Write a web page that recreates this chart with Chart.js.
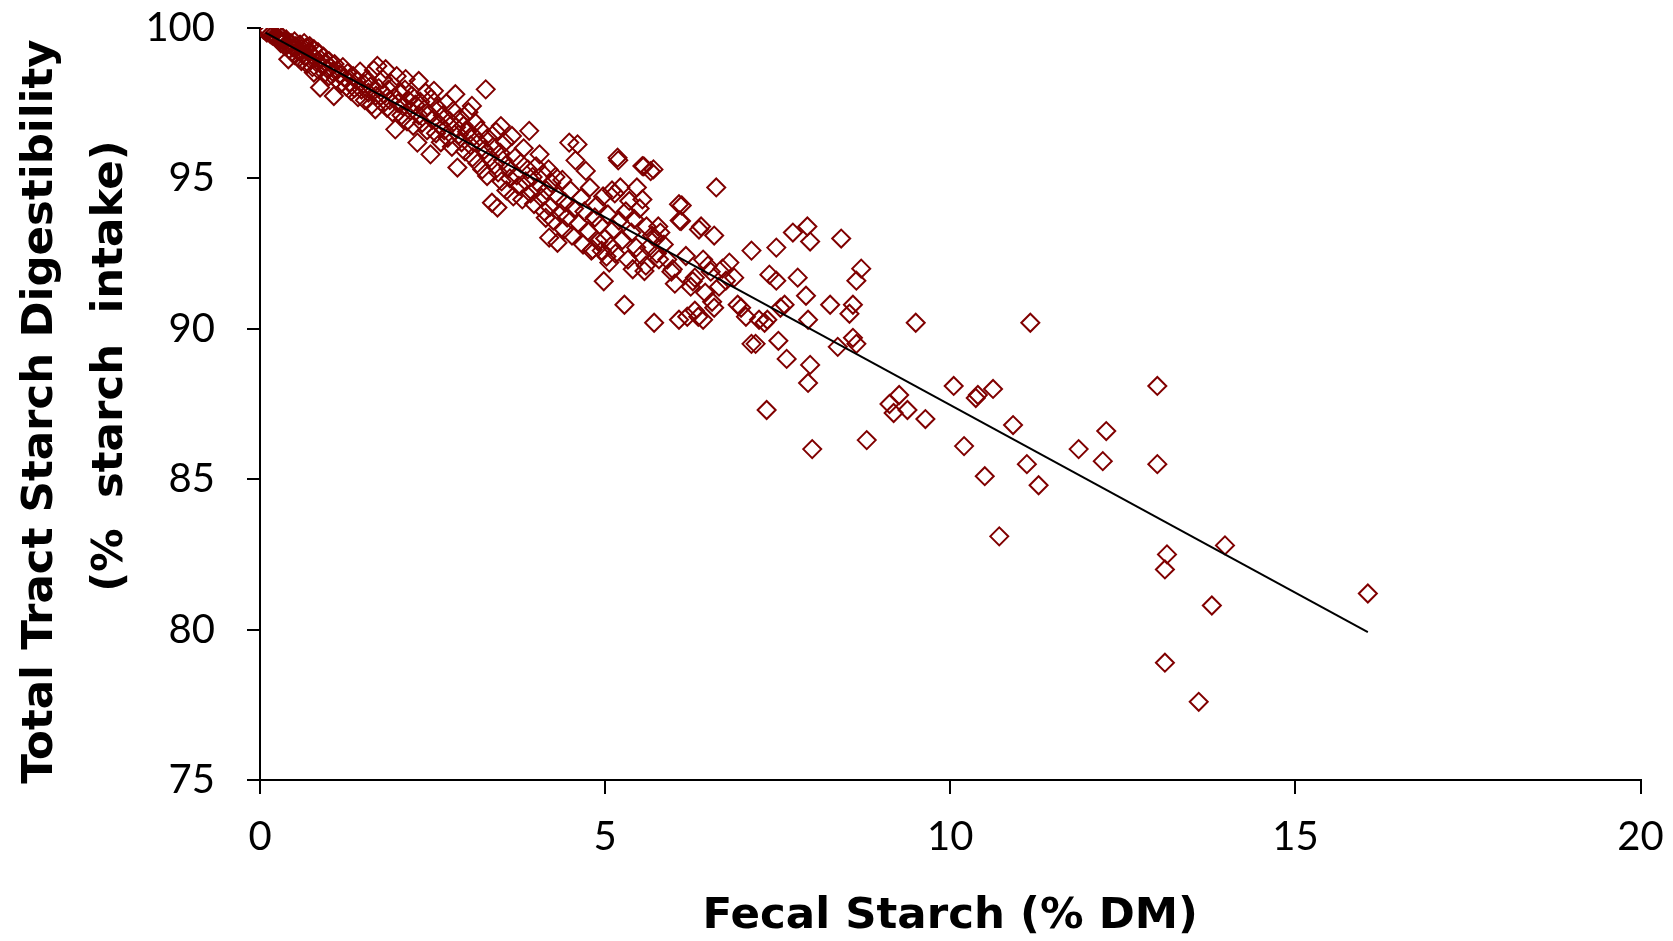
<!DOCTYPE html>
<html>
<head>
<meta charset="utf-8">
<script src="https://cdn.jsdelivr.net/npm/chart.js@4.4.1/dist/chart.umd.min.js"></script>
<style>
html,body{margin:0;padding:0;background:#fff;}
#wrap{width:1673px;height:941px;}
</style>
</head>
<body>
<div id="wrap"><canvas id="c" width="1673" height="941"></canvas></div>
<script>
// Fecal starch (% DM) and total tract starch digestibility (% starch intake)
const fecalStarch = [
0.05,0.08,0.1,0.12,0.15,0.18,0.2,0.22,0.25,0.27,0.3,0.3,0.32,0.35,0.36,0.38,0.4,0.41,0.42,0.45,
0.46,0.48,0.5,0.5,0.52,0.55,0.56,0.58,0.6,0.6,0.62,0.64,0.65,0.67,0.68,0.7,0.72,0.73,0.75,0.76,
0.78,0.78,0.8,0.82,0.84,0.85,0.87,0.88,0.9,0.92,0.94,0.95,0.97,1.0,1.0,1.02,1.05,1.07,1.08,1.1,
1.12,1.15,1.17,1.2,1.22,1.25,1.27,1.3,1.32,1.35,1.37,1.4,1.42,1.45,1.47,1.5,1.52,1.55,1.57,1.6,
1.62,1.65,1.67,1.68,1.7,1.72,1.75,1.78,1.8,1.82,1.84,1.86,1.88,1.9,1.92,1.95,1.96,1.98,2.0,2.02,
2.05,2.07,2.1,2.11,2.13,2.15,2.18,2.2,2.22,2.25,2.28,2.3,2.3,2.32,2.35,2.38,2.4,2.42,2.45,2.47,
2.48,2.5,2.52,2.55,2.57,2.6,2.62,2.65,2.67,2.7,2.72,2.75,2.78,2.8,2.83,2.84,2.86,2.88,2.9,2.92,
2.95,2.97,3.0,3.02,3.05,3.07,3.08,3.1,3.12,3.15,3.17,3.2,3.22,3.25,3.27,3.29,3.3,3.33,3.36,3.38,
3.4,3.42,3.44,3.45,3.48,3.49,3.5,3.52,3.55,3.57,3.6,3.62,3.65,3.67,3.7,3.72,3.75,3.78,3.8,3.82,
3.85,3.88,3.9,3.92,3.95,3.97,4.0,4.02,4.05,4.08,4.1,4.12,4.14,4.15,4.18,4.19,4.2,4.22,4.25,4.28,
4.31,4.32,4.35,4.38,4.4,4.42,4.45,4.48,4.5,4.52,4.55,4.57,4.6,4.62,4.65,4.68,4.7,4.72,4.75,4.78,
4.8,4.82,4.85,4.88,4.9,4.92,4.95,4.97,4.98,5.0,5.02,5.04,5.06,5.08,5.1,5.12,5.14,5.15,5.18,5.19,
5.2,5.22,5.25,5.28,5.3,5.33,5.35,5.38,5.4,5.42,5.45,5.46,5.5,5.52,5.54,5.54,5.56,5.57,5.59,5.6,
5.63,5.66,5.68,5.7,5.71,5.73,5.75,5.77,5.78,5.8,5.85,5.9,5.96,5.98,6.01,6.07,6.07,6.08,6.1,6.11,
6.17,6.19,6.24,6.27,6.3,6.3,6.35,6.36,6.39,6.42,6.42,6.45,6.49,6.53,6.55,6.58,6.58,6.61,6.65,6.7,
6.75,6.8,6.87,6.92,6.97,7.04,7.12,7.12,7.18,7.23,7.31,7.35,7.34,7.38,7.48,7.48,7.51,7.54,7.6,7.63,
7.72,7.79,7.91,7.93,7.94,7.94,7.97,7.97,8.0,8.26,8.37,8.42,8.54,8.59,8.59,8.64,8.64,8.71,8.79,9.12,
9.18,9.26,9.38,9.5,9.64,10.05,10.2,10.37,10.4,10.5,10.62,10.71,10.91,11.11,11.16,11.28,11.86,12.21,12.26,13.0,
13.0,13.11,13.14,13.11,13.6,13.79,13.98,16.05
];
const digestibility = [
99.95,99.9,99.85,99.92,99.8,99.75,99.82,99.7,99.65,99.78,99.6,99.5,99.7,99.55,99.4,99.62,99.45,98.96,99.3,99.5,
99.2,99.35,99.55,99.1,99.4,99.25,99.0,99.45,99.3,98.9,99.15,99.5,99.05,99.35,98.8,99.2,99.4,98.95,99.1,98.7,
98.52,99.3,99.0,98.85,99.2,98.6,98.02,98.95,98.75,99.05,98.5,98.85,98.65,98.9,98.4,98.7,98.55,97.74,98.8,98.3,
98.6,98.45,98.15,98.7,98.35,98.05,98.5,98.2,97.9,98.4,98.0,98.25,97.7,98.55,97.95,98.15,97.6,98.3,97.85,98.05,
97.45,98.6,97.3,97.75,98.74,98.0,97.55,98.3,97.8,98.63,97.35,97.95,97.6,98.15,97.2,97.7,96.63,98.4,97.5,97.85,
97.1,97.4,97.95,98.3,96.9,97.6,97.25,97.75,96.75,97.45,96.19,98.24,97.1,97.55,96.85,97.3,97.85,96.6,97.15,95.8,
97.65,96.95,97.91,96.5,97.35,96.8,96.2,97.1,96.6,97.5,96.35,96.9,96.05,97.25,97.8,96.7,95.36,96.45,97.0,96.2,
96.75,95.9,96.55,97.2,96.1,97.41,95.7,96.4,96.85,95.5,96.2,96.6,95.3,95.95,97.96,95.08,96.35,95.7,94.19,96.05,
95.45,96.55,94.03,95.2,95.85,96.74,94.9,95.6,96.2,94.6,95.35,95.0,96.41,94.4,95.7,95.1,94.75,95.5,94.3,96.0,
94.9,95.3,96.58,94.5,95.05,94.15,95.4,94.7,95.8,94.35,95.15,93.9,93.69,94.6,95.3,93.03,94.05,94.85,93.6,95.05,
92.86,94.4,93.85,94.95,93.3,94.2,93.7,96.19,94.6,93.1,94.0,95.6,96.13,93.5,94.35,92.8,93.9,95.25,93.25,94.7,
92.6,92.64,93.7,94.1,92.9,93.45,92.6,94.4,91.58,93.0,92.4,93.8,92.2,92.75,94.6,93.3,94.5,92.5,95.69,95.6,
93.6,94.7,92.95,90.8,93.9,92.3,94.25,93.2,91.98,93.65,92.7,94.7,94.0,92.45,94.3,95.41,95.4,91.92,92.1,93.4,
92.7,95.24,93.1,95.3,90.2,93.0,92.5,93.4,92.31,93.2,92.8,92.3,91.9,91.98,91.5,90.3,94.14,93.6,93.58,94.1,
92.42,90.4,91.4,91.58,90.6,91.7,90.4,93.3,93.4,92.3,90.3,91.2,92.1,91.9,90.9,93.1,90.7,94.7,91.4,92.0,
91.6,92.2,91.7,90.8,90.7,90.4,92.6,89.5,89.5,90.3,90.2,90.3,87.3,91.8,92.7,91.6,89.6,90.7,90.8,89.0,
93.2,91.7,91.1,93.4,90.3,88.2,88.8,92.9,86.0,90.8,89.4,93.0,90.5,90.8,89.7,89.5,91.6,92.0,86.3,87.5,
87.2,87.8,87.3,90.2,87.0,88.1,86.1,87.7,87.8,85.1,88.0,83.1,86.8,85.5,90.2,84.8,86.0,85.6,86.6,88.1,
85.5,82.0,82.5,78.9,77.6,80.8,82.8,81.2
];
// Fitted regression line end points
const fitX = [0.08, 16.05];
const fitY = [99.85, 79.92];
const xTicks = [0, 5, 10, 15, 20];
const yTicks = [75, 80, 85, 90, 95, 100];
const xTitle = 'Fecal Starch (% DM)';
const yTitle = ['Total Tract Starch Digestibility ', '     (%  starch  intake)'];

const pts = fecalStarch.map((x, i) => ({x: x, y: digestibility[i]}));
const fit = fitX.map((x, i) => ({x: x, y: fitY[i]}));

const tickFont = {family: 'Lato', size: 40};

new Chart(document.getElementById('c'), {
  type: 'scatter',
  data: {
    datasets: [
      {data: fit, showLine: true, borderColor: '#000', borderWidth: 2, pointRadius: 0, fill: false},
      {data: pts, pointStyle: 'rectRot', pointRadius: 9, pointBorderWidth: 2,
       borderColor: '#800000', backgroundColor: 'rgba(0,0,0,0)', pointBackgroundColor: 'rgba(0,0,0,0)'}
    ]
  },
  options: {
    responsive: false,
    animation: false,
    layout: {padding: {top: 28, right: 32.5, left: 0, bottom: 0}},
    plugins: {legend: {display: false}, tooltip: {enabled: false}},
    scales: {
      x: {
        type: 'linear', min: 0, max: 20,
        afterBuildTicks: s => { s.ticks = xTicks.map(v => ({value: v})); },
        afterFit: s => { s.height = 161; s.paddingLeft = 0; s.paddingRight = 0; },
        ticks: {font: tickFont, color: '#000', padding: 19, maxRotation: 0},
        grid: {drawOnChartArea: false, drawTicks: true, tickLength: 14, tickColor: '#000', lineWidth: 2},
        border: {display: true, color: '#000', width: 2},
        title: {display: true, text: xTitle, font: {family: 'DejaVu Sans', size: 43.5, weight: 'bold'}, color: '#000', padding: {top: 0, bottom: -2}}
      },
      y: {
        type: 'linear', min: 75, max: 100,
        afterBuildTicks: s => { s.ticks = yTicks.map(v => ({value: v})); },
        afterFit: s => { s.width = 260; s.paddingTop = 0; s.paddingBottom = 0; },
        ticks: {font: tickFont, color: '#000', padding: 32},
        grid: {drawOnChartArea: false, drawTicks: true, tickLength: 13, tickColor: '#000', lineWidth: 2},
        border: {display: true, color: '#000', width: 2},
        title: {display: true, text: yTitle, font: {family: 'DejaVu Sans', size: 43.5, weight: 'bold', lineHeight: 1.61}, color: '#000', padding: {top: 6, bottom: 0}}
      }
    }
  }
});
</script>
</body>
</html>
